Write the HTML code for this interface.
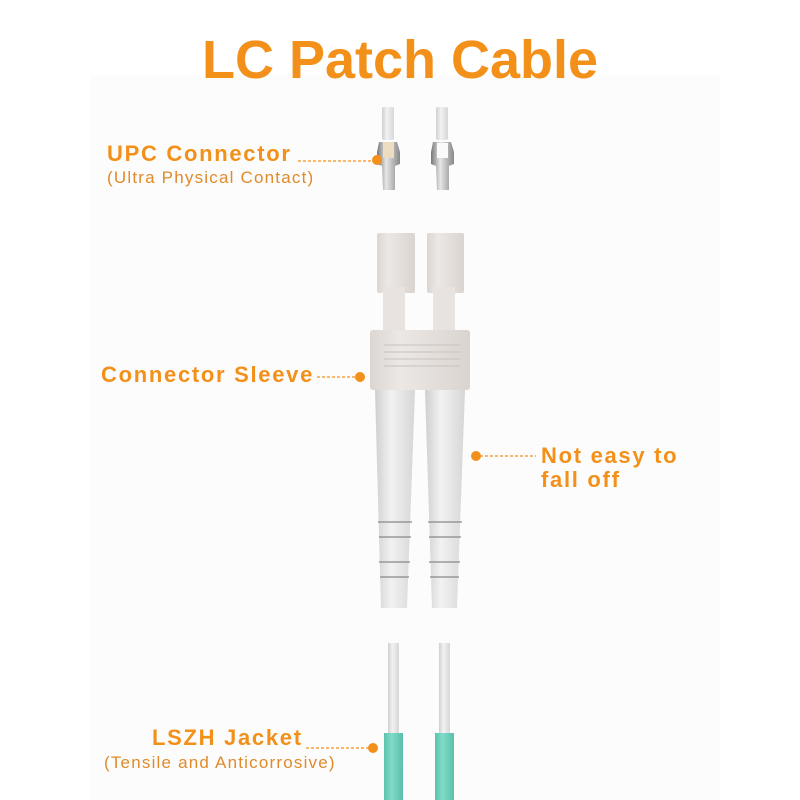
<!DOCTYPE html>
<html><head><style>
body{margin:0;background:#fff;}
svg{display:block;}
</style></head><body>
<svg width="800" height="800" viewBox="0 0 800 800" xmlns="http://www.w3.org/2000/svg">
<defs>
<linearGradient id="w" x1="0" x2="1" y1="0" y2="0">
<stop offset="0" stop-color="#cfcfcf"/><stop offset="0.4" stop-color="#f2f2f2"/><stop offset="1" stop-color="#d6d6d6"/>
</linearGradient>
<linearGradient id="m" x1="0" x2="1" y1="0" y2="0">
<stop offset="0" stop-color="#777"/><stop offset="0.4" stop-color="#e6e6e6"/><stop offset="1" stop-color="#888"/>
</linearGradient>
<linearGradient id="t" x1="0" x2="1" y1="0" y2="0">
<stop offset="0" stop-color="#5cc3ad"/><stop offset="0.4" stop-color="#7fdcc8"/><stop offset="1" stop-color="#5cbfa9"/>
</linearGradient>
<linearGradient id="s" x1="0" x2="1" y1="0" y2="0">
<stop offset="0" stop-color="#dcd6d2"/><stop offset="0.3" stop-color="#ece8e5"/><stop offset="1" stop-color="#dad4d0"/>
</linearGradient>
</defs>
<rect x="90" y="75" width="630" height="725" fill="#fcfcfc"/>
<text x="400" y="78" text-anchor="middle" font-family="Liberation Sans, sans-serif" font-weight="bold" font-size="54" fill="#f39019">LC Patch Cable</text>

<rect x="382" y="107" width="12" height="33" fill="url(#w)" rx="2"/>
<path d="M379 142 L397 142 L400 152 L400 164 L395 166 L395 190 L383 190 L382 166 L377 164 L377 152 Z" fill="url(#m)"/>
<rect x="383" y="142" width="11" height="16" fill="#ecdcc0"/>
<rect x="436" y="107" width="12" height="33" fill="url(#w)" rx="2"/>
<path d="M433 142 L451 142 L454 152 L454 164 L449 166 L449 190 L437 190 L436 166 L431 164 L431 152 Z" fill="url(#m)"/>
<rect x="437" y="143" width="11" height="15" fill="#fafafa"/>

<rect x="377" y="233" width="38" height="60" fill="url(#s)" rx="2"/>
<rect x="383" y="287" width="22" height="45" fill="#e8e3e0"/>
<rect x="427" y="233" width="37" height="60" fill="url(#s)" rx="2"/>
<rect x="433" y="287" width="22" height="45" fill="#e8e3e0"/>
<rect x="370" y="330" width="100" height="60" fill="url(#s)" rx="3"/>
<line x1="384" y1="345" x2="460" y2="345" stroke="#c9c2bd"/>
<line x1="384" y1="352" x2="460" y2="352" stroke="#c9c2bd"/>
<line x1="384" y1="359" x2="460" y2="359" stroke="#c9c2bd"/>
<line x1="384" y1="366" x2="460" y2="366" stroke="#c9c2bd"/>
<path d="M375 390 L415 390 L407 608 L381 608 Z" fill="url(#w)"/>
<path d="M425 390 L465 390 L457 608 L432 608 Z" fill="url(#w)"/>
<g stroke="#888" stroke-width="1.2">
<line x1="378" y1="522" x2="412" y2="522"/><line x1="379" y1="537" x2="411" y2="537"/>
<line x1="379" y1="562" x2="410" y2="562"/><line x1="380" y1="577" x2="409" y2="577"/>
<line x1="428" y1="522" x2="462" y2="522"/><line x1="429" y1="537" x2="461" y2="537"/>
<line x1="429" y1="562" x2="460" y2="562"/><line x1="430" y1="577" x2="459" y2="577"/>
</g>

<rect x="388" y="643" width="11" height="95" fill="url(#w)"/>
<rect x="439" y="643" width="11" height="95" fill="url(#w)"/>
<rect x="384" y="733" width="19" height="67" fill="url(#t)"/>
<rect x="435" y="733" width="19" height="67" fill="url(#t)"/>

<g font-family="Liberation Sans, sans-serif" fill="#f39019">
<text x="107" y="161" font-weight="bold" font-size="22" letter-spacing="1.7">UPC Connector</text>
<text x="107" y="183" font-size="17" letter-spacing="1.2" fill="#e08a2a">(Ultra Physical Contact)</text>
<text x="101" y="382" font-weight="bold" font-size="22" letter-spacing="1.7">Connector Sleeve</text>
<text x="541" y="463" font-weight="bold" font-size="22" letter-spacing="1.7">Not easy to</text>
<text x="541" y="487" font-weight="bold" font-size="22" letter-spacing="1.7">fall off</text>
<text x="152" y="745" font-weight="bold" font-size="22" letter-spacing="1.7">LSZH Jacket</text>
<text x="104" y="768" font-size="17" letter-spacing="1.2" fill="#e08a2a">(Tensile and Anticorrosive)</text>
</g>
<g stroke="#f39019" stroke-width="1.3" stroke-dasharray="3,2">
<line x1="298" y1="161" x2="374" y2="161"/>
<line x1="317" y1="377" x2="356" y2="377"/>
<line x1="480" y1="456" x2="536" y2="456"/>
<line x1="306" y1="748" x2="368" y2="748"/>
</g>
<g fill="#f39019">
<circle cx="377" cy="160" r="5"/>
<circle cx="360" cy="377" r="5"/>
<circle cx="476" cy="456" r="5"/>
<circle cx="373" cy="748" r="5"/>
</g>
</svg>
</body></html>
